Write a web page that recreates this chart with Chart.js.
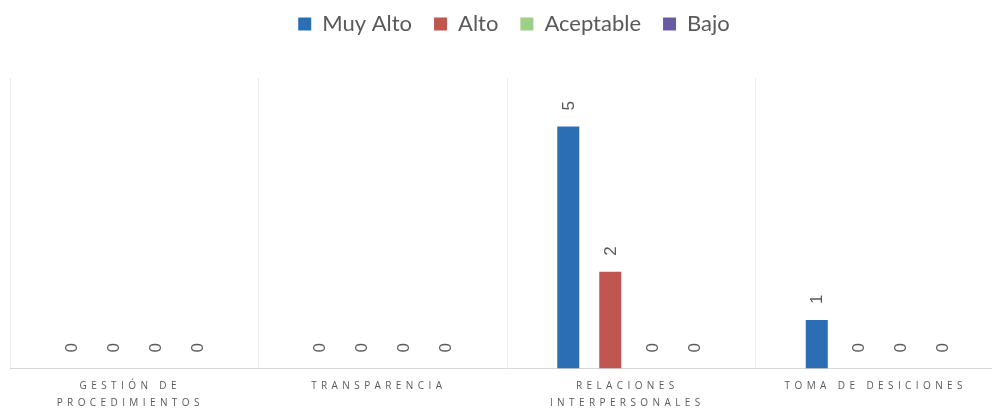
<!DOCTYPE html>
<html>
<head>
<meta charset="utf-8">
<script src="https://cdn.jsdelivr.net/npm/chart.js@4/dist/chart.umd.min.js"></script>
<style>
  html, body { margin: 0; padding: 0; background: #fff; overflow: hidden; }
  #wrap { width: 1014px; height: 410px; }
</style>
</head>
<body>
<div id="wrap"><canvas id="c" width="1014" height="410"></canvas></div>
<script>
// Categories and counts per level
const categories = [
  ['GESTIÓN DE', 'PROCEDIMIENTOS'],
  'TRANSPARENCIA',
  ['RELACIONES', 'INTERPERSONALES'],
  'TOMA DE DESICIONES'
];
const seriesNames = ['Muy Alto', 'Alto', 'Aceptable', 'Bajo'];
const muyAlto   = [0, 0, 5, 1];
const alto      = [0, 0, 2, 0];
const aceptable = [0, 0, 0, 0];
const bajo      = [0, 0, 0, 0];
const yTicks = [0, 6];

const colors = ['#2b6eb3', '#c0564f', '#9dcf86', '#6a5aa6'];
const seriesValues = [muyAlto, alto, aceptable, bajo];

// Rotated value labels above each bar
const valueLabels = {
  id: 'valueLabels',
  afterDatasetsDraw(chart) {
    const ctx = chart.ctx;
    ctx.save();
    ctx.fillStyle = '#5a5a5a';
    ctx.font = '17px "Liberation Sans", Arial, sans-serif';
    ctx.textAlign = 'left';
    ctx.textBaseline = 'middle';
    chart.data.datasets.forEach((ds, di) => {
      const meta = chart.getDatasetMeta(di);
      meta.data.forEach((bar, i) => {
        ctx.save();
        ctx.translate(bar.x + 1, bar.y - 16);
        ctx.rotate(-Math.PI / 2);
        ctx.fillText(String(ds.data[i]), 0, 0);
        ctx.restore();
      });
    });
    ctx.restore();
  }
};

// Letter-spaced category labels on the x axis; legend nudged right
const spacedLabels = {
  id: 'spacedLabels',
  beforeDraw(chart) {
    const xs = chart.scales.x;
    if (xs && !xs.__spaced) {
      const orig = xs.drawLabels.bind(xs);
      xs.drawLabels = function (area) {
        const ctx = this.ctx;
        ctx.save();
        ctx.letterSpacing = '4.4px';
        ctx.translate(-4, 0);
        orig(area);
        ctx.restore();
      };
      xs.__spaced = true;
    }
    const lg = chart.legend;
    if (lg && !lg.__shifted) {
      const draw = lg.draw.bind(lg);
      lg.draw = function () {
        const ctx = this.ctx;
        ctx.save();
        ctx.translate(7, 0);
        draw();
        ctx.restore();
      };
      lg.__shifted = true;
    }
  }
};

// Extra room between the legend and the plot
const legendGap = {
  id: 'legendGap',
  beforeInit(chart) {
    const lg = chart.legend;
    if (lg) {
      const fit = lg.fit;
      lg.fit = function () {
        fit.call(this);
        this.height += 33;
      };
    }
  }
};

new Chart(document.getElementById('c'), {
  type: 'bar',
  data: {
    labels: categories,
    datasets: seriesNames.map((name, k) => ({
      label: name,
      data: seriesValues[k],
      backgroundColor: colors[k],
      borderWidth: 0,
      categoryPercentage: 0.676,
      barPercentage: 0.524
    }))
  },
  options: {
    responsive: false,
    animation: false,
    devicePixelRatio: 1,
    layout: { padding: { left: 10, right: 10, top: -9, bottom: -10.5 } },
    plugins: {
      legend: {
        position: 'top',
        labels: {
          boxWidth: 13,
          boxHeight: 13,
          padding: 22,
          color: '#595959',
          font: { family: 'Lato, "Open Sans", sans-serif', size: 22 }
        }
      },
      tooltip: { enabled: false }
    },
    scales: {
      x: {
        grid: { display: true, color: '#ececec', offset: true, drawTicks: false },
        border: { display: true, color: '#d6d6d6', width: 1 },
        ticks: {
          color: '#5a5a5a',
          padding: 9,
          maxRotation: 0,
          autoSkip: false,
          font: { family: '"Open Sans", sans-serif', size: 10, lineHeight: 1.7 }
        }
      },
      y: {
        display: false,
        min: yTicks[0],
        max: yTicks[1],
        grid: { display: false }
      }
    }
  },
  plugins: [valueLabels, spacedLabels, legendGap]
});
</script>
</body>
</html>
